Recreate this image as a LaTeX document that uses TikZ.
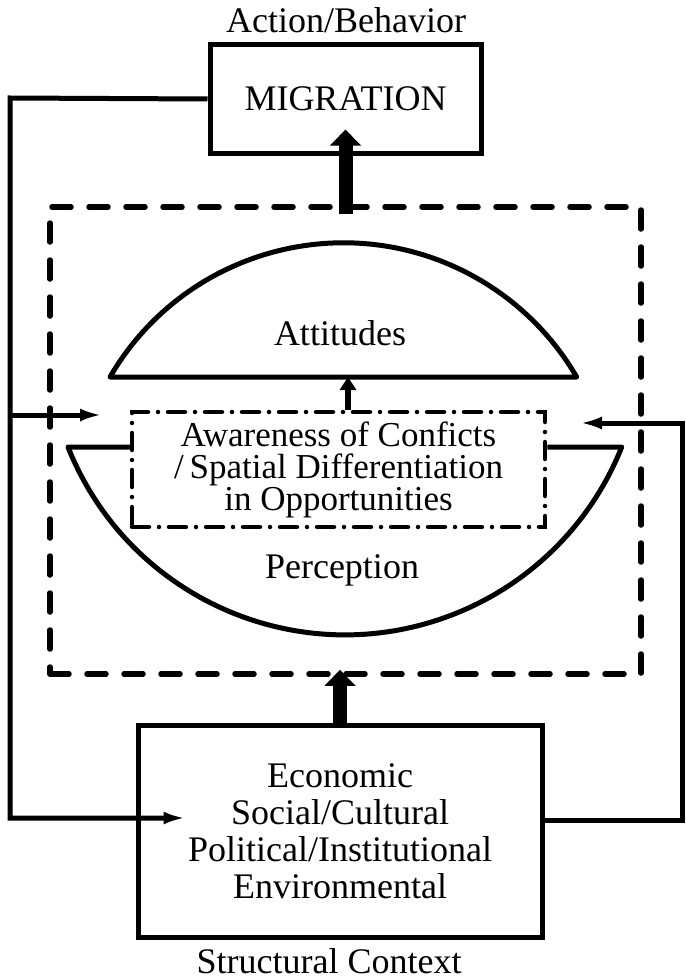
\documentclass[tikz,border=0pt]{standalone}
\usepackage{fontspec}
\setmainfont{Liberation Serif}
\usepackage{tikz}
\usetikzlibrary{arrows.meta,positioning,calc}

\begin{document}
\lineskiplimit=-50pt
\begin{tikzpicture}[
    x=1pt, y=-1pt,
    solidbox/.style={draw, line width=5pt, inner sep=0pt, align=center},
    mindbox/.style={draw, line width=5.5pt, line cap=round, dash pattern=on 19pt off 18pt},
    awarebox/.style={draw, line width=4.5pt, line cap=round, dash pattern=on 17pt off 10pt on 0pt off 10pt,
        inner sep=0pt, align=center, font=\fontsize{35}{32}\selectfont},
    lens/.style={line width=5pt, line join=round},
    bigarrow/.style={line width=14pt, -{Triangle[length=16pt, width=30pt]}},
    midarrow/.style={line width=6pt, -{Triangle[length=13pt, width=16pt]}},
    flow/.style={line width=5pt, -{Latex[length=22pt, width=13pt]}},
    every node/.style={font=\fontsize{36}{37}\selectfont}
]
\useasboundingbox (0,0) rectangle (685,979);

% Action
\node[anchor=base] (action) at (346,33) {Action/Behavior};
\node[solidbox, minimum width=271pt, minimum height=108pt] (migration) at (345.5,99) {MIGRATION};

% Individual
\node[mindbox, minimum width=591pt, minimum height=467pt] (mind) at (345.5,440.5) {};
\draw[lens] (110,377) arc[start angle=210.2, end angle=329.8, radius=270] -- cycle;
\node[anchor=base] (attitudes) at (340,345) {Attitudes};
\coordinate (attbase) at (348,377);

\node[awarebox, minimum width=413pt, minimum height=115pt] (awareness) at (338.5,469.5)
    {Awareness of Conficts\\/\,Spatial Differentiation\\in Opportunities};
\draw[lens] ([yshift=22.5pt]awareness.west) -- (68,447)
    arc[start angle=158.3, end angle=21.7, radius=298] -- ([yshift=22.5pt]awareness.east);
\node[anchor=base] (perception) at (342,578) {Perception};

% Structure
\node[solidbox, minimum width=404pt, minimum height=212pt] (context) at (340,831)
    {Economic\\Social/Cultural\\Political/Institutional\\Environmental};
\node[anchor=base] (structural) at (329,973) {Structural Context};

% Arrows
\draw[bigarrow] ([yshift=-10pt]mind.north) -- ([yshift=26pt]migration.south);
\draw[bigarrow] (context.north) -- ([yshift=7pt]context.north |- mind.south);
\draw[midarrow] (attbase |- awareness.north) -- (attbase);

% Feedback loops
\coordinate (loopL) at (10,98);
\coordinate (inL) at (102,415);
\coordinate (loopR) at (682,423);
\coordinate (inR) at (580,423);
\draw[flow] (migration.west) -- (loopL) |- ([shift={(50pt,13pt)}]context.west);
\draw[flow] (loopL |- inL) -- (inL);
\draw[flow] ([yshift=11pt]context.east) -| (loopR) -- (inR);

\end{tikzpicture}
\end{document}
